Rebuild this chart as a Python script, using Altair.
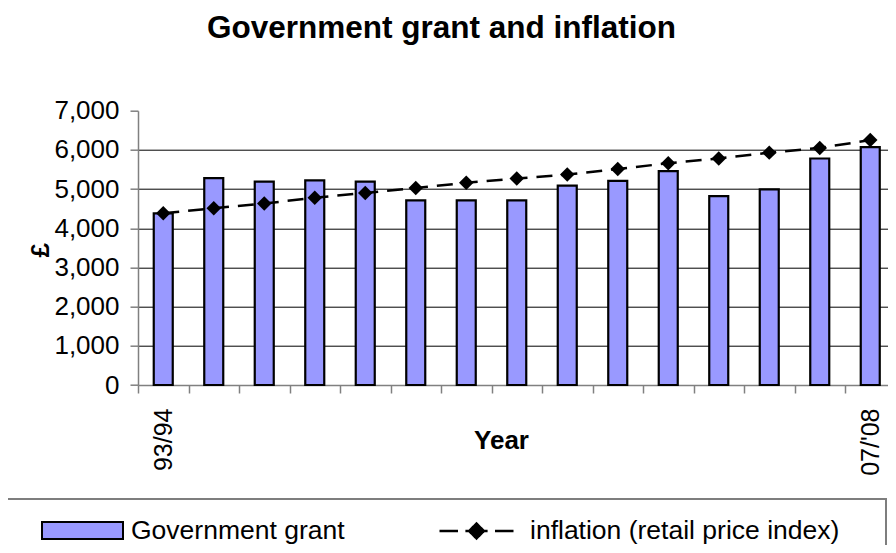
import altair as alt
import pandas as pd

years = ["93/94", "94/95", "95/96", "96/97", "97/98", "98/99", "99/00", "00/01",
         "01/02", "02/03", "03/04", "04/05", "05/06", "06/07", "07/'08"]
grant = [4380, 5280, 5190, 5220, 5190, 4710, 4710, 4710, 5090, 5210, 5460, 4820, 4990, 5780, 6070]
inflation = [4380, 4510, 4630, 4780, 4900, 5030, 5160, 5270, 5370, 5510, 5660, 5780, 5930, 6050, 6250]
y_ticks = [0, 1000, 2000, 3000, 4000, 5000, 6000, 7000]
series = ["Government grant", "inflation (retail price index)"]
title_text = "Government grant and inflation"

df = pd.DataFrame({
    "year": years,
    "grant": grant,
    "inflation": inflation,
    "s1": series[0],
    "s2": series[1],
})

FONT = "Liberation Sans"

x_scale = alt.Scale(domain=years, paddingInner=0, paddingOuter=0, round=False, range=[0, 757.5])
y_scale = alt.Scale(domain=[0, 7000], nice=False)

x_axis = alt.Axis(
    title="Year",
    titleFont=FONT, titleFontSize=26, titleFontWeight="bold", titleColor="black",
    titleX=363, titleY=55, titleBaseline="middle", titleAlign="center",
    labelAngle=-90, labelFont=FONT, labelFontSize=25, labelColor="black",
    labelPadding=15, labelOverlap=False,
    labelExpr="(datum.label == '93/94' || datum.label == \"07/'08\") ? datum.label : ''",
    tickBand="extent", tickSize=8, tickColor="#808080", tickWidth=1.5,
    domainColor="#808080", domainWidth=1.5, grid=False,
)

y_axis = alt.Axis(
    title="£", titleFont=FONT, titleFontSize=26, titleFontWeight="bold", titleColor="black",
    titleX=-98, titleY=139, titleAngle=-90, titleAlign="center", titleBaseline="middle",
    values=y_ticks, format=",d", labelFont=FONT, labelFontSize=26, labelColor="black",
    labelPadding=11, labelOverlap=False, tickSize=8, tickColor="#808080", tickWidth=1.5,
    domainColor="#808080", domainWidth=1.5,
    grid=True, gridColor="black", gridWidth=1,
    gridOpacity={"condition": {"test": "datum.value == 7000 || datum.value == 0", "value": 0}, "value": 1},
)


def xenc():
    return alt.X("year:N", sort=years, scale=x_scale, axis=x_axis)


bars = alt.Chart(df).mark_bar(size=19, stroke="black", strokeWidth=2.2).encode(
    x=xenc(),
    y=alt.Y("grant:Q", scale=y_scale, axis=y_axis),
    fill=alt.Fill(
        "s1:N",
        scale=alt.Scale(domain=[series[0]], range=["#9999FF"]),
        legend=alt.Legend(
            orient="none", legendX=-97, legendY=378.3, title=None, padding=0,
            symbolType="M-1,-0.21H1V0.21H-1Z", symbolSize=6561,
            symbolStrokeColor="black", symbolStrokeWidth=2,
            labelFont=FONT, labelFontSize=26.5, labelColor="black", labelOffset=7, labelLimit=0,
        ),
    ),
)

line = alt.Chart(df).mark_line(strokeDash=[16, 9], strokeWidth=2.5).encode(
    x=xenc(),
    y=alt.Y("inflation:Q", scale=y_scale, axis=y_axis),
    stroke=alt.Stroke(
        "s2:N",
        scale=alt.Scale(domain=[series[1]], range=["black"]),
        legend=alt.Legend(
            orient="none", legendX=300, legendY=381.8, title=None, padding=0,
            symbolType="M-1,0H-0.5M-0.3,0H-0.2M0.2,0H0.3M0.5,0H1M-0.2,0L0,-0.2L0.2,0L0,0.2Z",
            symbolSize=5476, symbolStrokeWidth=2.5, symbolFillColor="black", symbolDash=[1, 0],
            labelFont=FONT, labelFontSize=26.5, labelColor="black", labelOffset=15, labelLimit=0,
        ),
    ),
)

points = alt.Chart(df).mark_point(shape="diamond", filled=True, size=210, color="black", opacity=1).encode(
    x=xenc(),
    y=alt.Y("inflation:Q", scale=y_scale, axis=y_axis),
)

box = alt.Chart(df).mark_rect(fill=None, stroke="#7f7f7f", strokeWidth=1.5).encode(
    x=alt.value(-170), x2=alt.value(748), y=alt.value(388.3), y2=alt.value(480)
)

chart = alt.layer(bars, line, points, box).resolve_scale(
    fill="independent", stroke="independent"
).properties(
    width=750,
    height=274.3,
    autosize=alt.AutoSizeParams(type="none"),
    padding={"left": 130, "top": 102.7, "right": 0, "bottom": 160},
    title=alt.TitleParams(
        title_text, font=FONT, fontSize=31.5, fontWeight="bold", color="black",
        anchor="middle", frame="group", dx=-71.5, offset=28, baseline="alphabetic",
    ),
    background="white",
).configure_view(stroke=None)

chart.save("out.html", embed_options={"renderer": "svg", "actions": False})
